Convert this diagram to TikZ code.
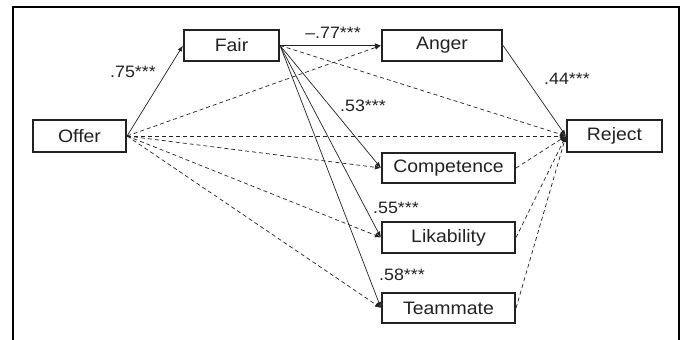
\documentclass[tikz,border=0pt]{standalone}
\usepackage{fontspec}
\setmainfont{Liberation Sans}[FakeStretch=1.08]
\usetikzlibrary{arrows.meta}
\definecolor{ink}{HTML}{222222}
\tikzset{
  box/.style={draw=ink, line width=1.6pt, inner sep=0pt, text=ink,
    font=\fontsize{18}{21}\selectfont},
  lab/.style={inner sep=0pt, text=ink, font=\fontsize{16.5}{19}\selectfont},
  sol/.style={draw=ink, line width=0.7pt, -{Latex[length=6pt,width=4.5pt]}},
  dsh/.style={sol, dash pattern=on 4pt off 3pt},
}
\begin{document}
\begin{tikzpicture}[x=1pt,y=-1pt]
\useasboundingbox (0,0) rectangle (683,340);
\draw[line width=2.5pt] (13,342) -- (13,7) -- (679,7) -- (679,342);
\node[box, minimum width=93.5pt, minimum height=32.5pt] (offer) at (79.5,136) {Offer};
\node[box, minimum width=95.5pt, minimum height=31.5pt] (fair) at (231.5,45.5) {Fair};
\node[box, minimum width=120.5pt, minimum height=31.5pt] (anger) at (442,45.5) {Anger};
\node[box, minimum width=95.5pt, minimum height=32.5pt] (reject) at (614.5,136) {Reject};
\node[box, minimum width=133.5pt, minimum height=30.5pt] (comp) at (448.5,168) {Competence};
\node[box, minimum width=133.5pt, minimum height=31.5pt] (lik) at (448.5,237.5) {Likability};
\node[box, minimum width=133.5pt, minimum height=30.5pt] (team) at (448.5,308) {Teammate};
% solid paths
\draw[sol] (offer.east) -- (fair.west);
\draw[sol] (fair.east) -- (anger.west);
\draw[sol] (fair.east) -- (comp.west);
\draw[sol] (fair.east) -- (lik.west);
\draw[sol] (fair.east) -- (team.west);
\draw[sol] (anger.east) -- (reject.west);
% dashed paths
\draw[dsh] (offer.east) -- (anger.west);
\draw[dsh] (offer.east) -- (reject.west);
\draw[dsh] (offer.east) -- (comp.west);
\draw[dsh] (offer.east) -- (lik.west);
\draw[dsh] (offer.east) -- (team.west);
\draw[dsh] (fair.east) -- (reject.west);
\draw[dsh] (comp.east) -- (reject.west);
\draw[dsh] (lik.east) -- (reject.west);
\draw[dsh] (team.east) -- (reject.west);
% labels
\node[lab] (l75) at (133,72) {.75***};
\node[lab] (l77) at (333,33) {–.77***};
\node[lab] (l53) at (363,106) {.53***};
\node[lab] (l44) at (567,79) {.44***};
\node[lab] (l55) at (396,208) {.55***};
\node[lab] (l58) at (402,275) {.58***};
\end{tikzpicture}
\end{document}
